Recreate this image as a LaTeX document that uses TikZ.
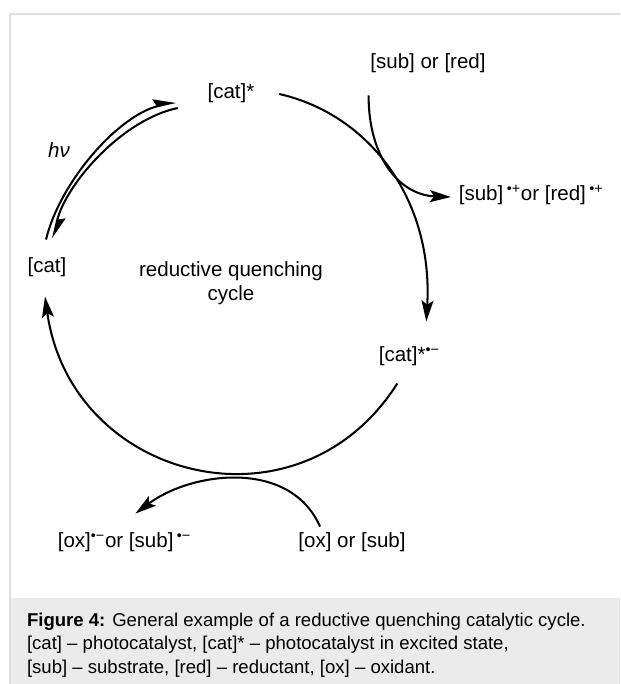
\documentclass[tikz,border=0pt]{standalone}
\usepackage{fontspec}
\setmainfont{Liberation Sans}
\usetikzlibrary{arrows.meta}
\definecolor{framegray}{HTML}{DDDDDD}
\definecolor{capgray}{HTML}{EBEBEB}
\tikzset{lbl/.style={inner sep=2pt, text height=0.73em, text depth=0.21em},
	harp/.style={-{Stealth[harpoon,length=14pt,width=11pt,inset=2pt]}}}
\begin{document}
\begin{tikzpicture}[x=0.25mm, y=-0.25mm, font=\fontsize{14.6}{17}\selectfont, line width=1.45pt, line join=round, >={Stealth[length=15pt,width=8.5pt,inset=3pt]}]
	\useasboundingbox (0,0) rectangle (620,684);
	\fill[capgray] (10,598) rectangle (620,684);
	\draw[framegray, line width=1.4pt] (10,684) -- (10,14) -- (620,14);
	% species
	\node[lbl] (catstar) at (231,95) {[cat]*};
	\node[lbl] (cat) at (47,269) {[cat]};
	\node[lbl, anchor=west] (catrad) at (375,358) {[cat]*\textsuperscript{•−}};
	\node[lbl] (subred) at (428,65) {[sub] or [red]};
	\node[lbl, anchor=west] (subredox) at (455,197) {[sub]\,\textsuperscript{•+}or [red]\,\textsuperscript{•+}};
	\node[lbl] (oxsub) at (352,544) {[ox] or [sub]};
	\node[lbl, anchor=west] (oxsubrad) at (54,544) {[ox]\textsuperscript{•−}or [sub]\,\textsuperscript{•−}};
	\node (hv) at (59,150) {\textit{hν}};
	\node[align=center] (quench) at (231,283) {reductive quenching\\cycle};
	% cycle
	\draw[harp] ([shift={(-1,-19)}]cat.north) .. controls +(14,-58) and +(-57,13) .. ([shift={(-28,7)}]catstar.west);
	\draw[harp] ([shift={(-26,13)}]catstar.west) .. controls +(-57,12) and +(12,-53) .. ([shift={(6,-20)}]cat.north);
	\draw[->] ([shift={(21,-1)}]catstar.east) .. controls +(92,21) and +(7,-120) .. ([shift={(17,-26)}]catrad.north);
	\draw[->] ([shift={(-12,15)}]catrad.south) .. controls +(-98,155) and +(26,185) .. ([shift={(-2,17)}]cat.south);
	% electron transfer
	\draw[->] ([shift={(2,20)}]subred.south west) .. controls +(0,63) and +(-51,-2) .. ([shift={(-4,0)}]subredox.west);
	\draw[->] ([shift={(-32,-7)}]oxsub.north) .. controls +(-30,-68) and +(56,-42) .. ([shift={(11,-20)}]oxsubrad.north);
	% caption
	\node[anchor=north west, inner sep=0pt, align=left, font=\fontsize{13.2}{16.7}\selectfont] (caption) at (26,612) {\textbf{Figure 4:} General example of a reductive quenching catalytic cycle.\\{}[cat] -- photocatalyst, [cat]* -- photocatalyst in excited state,\\{}[sub] -- substrate, [red] -- reductant, [ox] -- oxidant.};
\end{tikzpicture}
\end{document}
